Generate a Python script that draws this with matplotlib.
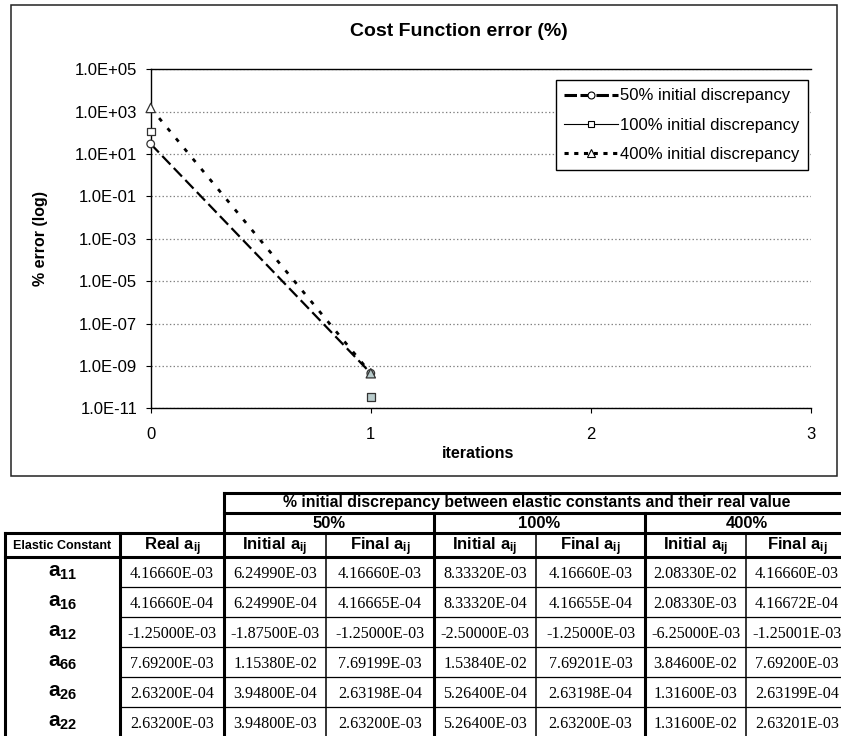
import matplotlib
matplotlib.use('Agg')
import matplotlib.pyplot as plt
import matplotlib.ticker as mticker
from matplotlib.lines import Line2D
from matplotlib.patches import Rectangle

plt.rcParams['font.family'] = ['Liberation Sans', 'DejaVu Sans']
plt.rcParams['mathtext.fontset'] = 'custom'
plt.rcParams['mathtext.rm'] = 'Liberation Sans'
plt.rcParams['mathtext.bf'] = 'Liberation Sans:bold'
plt.rcParams['mathtext.it'] = 'Liberation Sans:italic'
plt.rcParams['lines.scale_dashes'] = False

# ---------------- data ----------------
iterations = [0, 1]
err_50 = [30.0, 4.5e-10]
err_100 = [115.0, 3.5e-11]
err_400 = [1500.0, 4.5e-10]
series_labels = ['50% initial discrepancy', '100% initial discrepancy',
                 '400% initial discrepancy']
y_ticks = [1e-11, 1e-9, 1e-7, 1e-5, 1e-3, 1e-1, 1e1, 1e3, 1e5]
x_ticks = [0, 1, 2, 3]

table_title = '% initial discrepancy between elastic constants and their real value'
groups = ['50%', '100%', '400%']
constants = ['11', '16', '12', '66', '26', '22']
real_a = [4.16660E-03, 4.16660E-04, -1.25000E-03, 7.69200E-03, 2.63200E-04, 2.63200E-03]
init_50 = [6.24990E-03, 6.24990E-04, -1.87500E-03, 1.15380E-02, 3.94800E-04, 3.94800E-03]
final_50 = [4.16660E-03, 4.16665E-04, -1.25000E-03, 7.69199E-03, 2.63198E-04, 2.63200E-03]
init_100 = [8.33320E-03, 8.33320E-04, -2.50000E-03, 1.53840E-02, 5.26400E-04, 5.26400E-03]
final_100 = [4.16660E-03, 4.16655E-04, -1.25000E-03, 7.69201E-03, 2.63198E-04, 2.63200E-03]
init_400 = [2.08330E-02, 2.08330E-03, -6.25000E-03, 3.84600E-02, 1.31600E-03, 1.31600E-02]
final_400 = [4.16660E-03, 4.16672E-04, -1.25001E-03, 7.69200E-03, 2.63199E-04, 2.63201E-03]

# ---------------- figure ----------------
W, H = 841, 736
fig = plt.figure(figsize=(W / 100, H / 100), dpi=100)

# overlay in pixel coords for frame and table
tax = fig.add_axes([0, 0, 1, 1], zorder=0)
tax.set_xlim(0, W)
tax.set_ylim(H, 0)
tax.axis('off')
tax.add_patch(Rectangle((11, 5), 826, 471, fill=False, lw=1.1, ec='#222222'))

# chart axes
ax_l, ax_r, ax_t, ax_b = 150.7, 811.0, 69.3, 408.3
ax = fig.add_axes([ax_l / W, 1 - ax_b / H, (ax_r - ax_l) / W, (ax_b - ax_t) / H], zorder=2)
ax.set_yscale('log')
ax.set_ylim(1e-11, 1e5)
ax.set_xlim(0, 3)
ax.set_axisbelow(True)
ax.yaxis.grid(True, which='major', ls=':', color='#808080', lw=0.9)
ax.spines['right'].set_visible(False)
for s in ['left', 'bottom', 'top']:
    ax.spines[s].set_linewidth(1.0)
ax.set_yticks(y_ticks)
ax.yaxis.set_minor_locator(mticker.NullLocator())
ax.yaxis.set_major_formatter(mticker.FuncFormatter(lambda v, p: f"{v:.1E}"))
ax.set_xticks(x_ticks)
ax.tick_params(axis='y', direction='out', length=3.6, width=0.8, pad=6, labelsize=12)
ax.tick_params(axis='x', direction='out', length=3.6, width=0.8, pad=10, labelsize=12)

ax.plot(iterations, err_50, color='black', lw=1.6, dashes=(8.5, 3.5), zorder=3)
ax.plot(iterations, err_400, color='black', lw=2.0, dashes=(3.0, 6.5), zorder=3)

faces = ['white', '#b9cccc']
ax.scatter(iterations, err_100, marker='s', s=30, facecolors=faces, edgecolors='#333333',
           linewidths=0.9, zorder=4, clip_on=False)
ax.scatter(iterations, err_50, marker='o', s=30, facecolors=faces, edgecolors='#333333',
           linewidths=0.9, zorder=4, clip_on=False)
ax.scatter(iterations, err_400, marker='^', s=45, facecolors=faces, edgecolors='#333333',
           linewidths=0.9, zorder=5, clip_on=False)

handles = [
    Line2D([], [], color='black', lw=2.2, dashes=(9, 2.5), marker='o', mfc='white', mec='black', ms=5, mew=0.8),
    Line2D([], [], color='black', lw=0.8, marker='s', mfc='white', mec='black', ms=5, mew=0.8),
    Line2D([], [], color='black', lw=2.2, dashes=(3, 4), marker='^', mfc='white', mec='black', ms=6, mew=0.8),
]
leg = ax.legend(handles, series_labels, loc='upper right', bbox_to_anchor=(0.9955, 0.968),
                frameon=True, fancybox=False, edgecolor='black', framealpha=1, fontsize=12,
                handlelength=3.2, handletextpad=0.15, labelspacing=0.85, borderpad=0.5,
                borderaxespad=0)
leg.get_frame().set_linewidth(1.0)

fig.text(459 / W, 1 - 31 / H, 'Cost Function error (%)', ha='center', va='center',
         fontsize=14, fontweight='bold')
fig.text(40 / W, 1 - 238 / H, '% error (log)', ha='center', va='center', rotation=90,
         fontsize=11.5, fontweight='bold')
fig.text(478 / W, 1 - 453 / H, 'iterations', ha='center', va='center',
         fontsize=11.5, fontweight='bold')

# ---------------- table ----------------
col_edges = [5, 120, 224, 326, 434, 536, 645, 746, 848]
y_top, y_h1, y_h2, y_h3 = 493, 513, 533, 557
row_h = 30
n_rows = len(constants)
y_bot = y_h3 + n_rows * row_h
thick, thin_v, thin_h = 2.2, 1.1, 0.9

def hline(y, x0, x1, lw):
    tax.plot([x0, x1], [y, y], color='black', lw=lw, solid_capstyle='projecting')

def vline(x, y0, y1, lw):
    tax.plot([x, x], [y0, y1], color='black', lw=lw, solid_capstyle='projecting')

hline(y_top, col_edges[2], col_edges[-1], thick)
hline(y_h1, col_edges[2], col_edges[-1], thick)
hline(y_h2, col_edges[0], col_edges[-1], thick)
hline(y_h3, col_edges[0], col_edges[-1], thick)
for i in range(1, n_rows):
    hline(y_h3 + i * row_h, col_edges[1], col_edges[-1], thin_h)
vline(col_edges[2], y_top, y_bot, thick)
vline(col_edges[-1], y_top, y_bot, thick)
vline(col_edges[4], y_h1, y_bot, thick)
vline(col_edges[6], y_h1, y_bot, thick)
vline(col_edges[0], y_h2, y_bot, thick)
vline(col_edges[1], y_h2, y_bot, thick)
for k in (3, 5, 7):
    vline(col_edges[k], y_h2, y_bot, thin_v)

tax.text(537, (y_top + y_h1) / 2 + 4.5, table_title, ha='center', va='baseline',
         fontsize=11.4, fontweight='bold')
for g, name in enumerate(groups):
    xc = (col_edges[2 + 2 * g] + col_edges[4 + 2 * g]) / 2
    tax.text(xc, (y_h1 + y_h2) / 2 + 4.5, name, ha='center', va='baseline',
             fontsize=12, fontweight='bold')

sub_y = (y_h2 + y_h3) / 2 + 5
tax.text((col_edges[0] + col_edges[1]) / 2, sub_y - 1, 'Elastic Constant', ha='center',
         va='baseline', fontsize=9, fontweight='bold')
sub_heads = ['Real', 'Initial', 'Final', 'Initial', 'Final', 'Initial', 'Final']
for k, name in enumerate(sub_heads):
    xc = (col_edges[1 + k] + col_edges[2 + k]) / 2
    tax.text(xc, sub_y, name + r' $\mathbf{a_{ij}}$', ha='center', va='baseline',
             fontsize=12, fontweight='bold')

columns = [real_a, init_50, final_50, init_100, final_100, init_400, final_400]
for i in range(n_rows):
    yc = y_h3 + (i + 0.5) * row_h
    tax.text((col_edges[0] + col_edges[1]) / 2, yc + 4.5, r'$\mathbf{a_{' + constants[i] + '}}$',
             ha='center', va='baseline', fontsize=15)
    for k, col in enumerate(columns):
        xc = (col_edges[1 + k] + col_edges[2 + k]) / 2
        tax.text(xc, yc + 5.5, f"{col[i]:.5E}", ha='center', va='baseline',
                 fontsize=11.6, family='Liberation Serif')

fig.savefig('out.png', dpi=100)
